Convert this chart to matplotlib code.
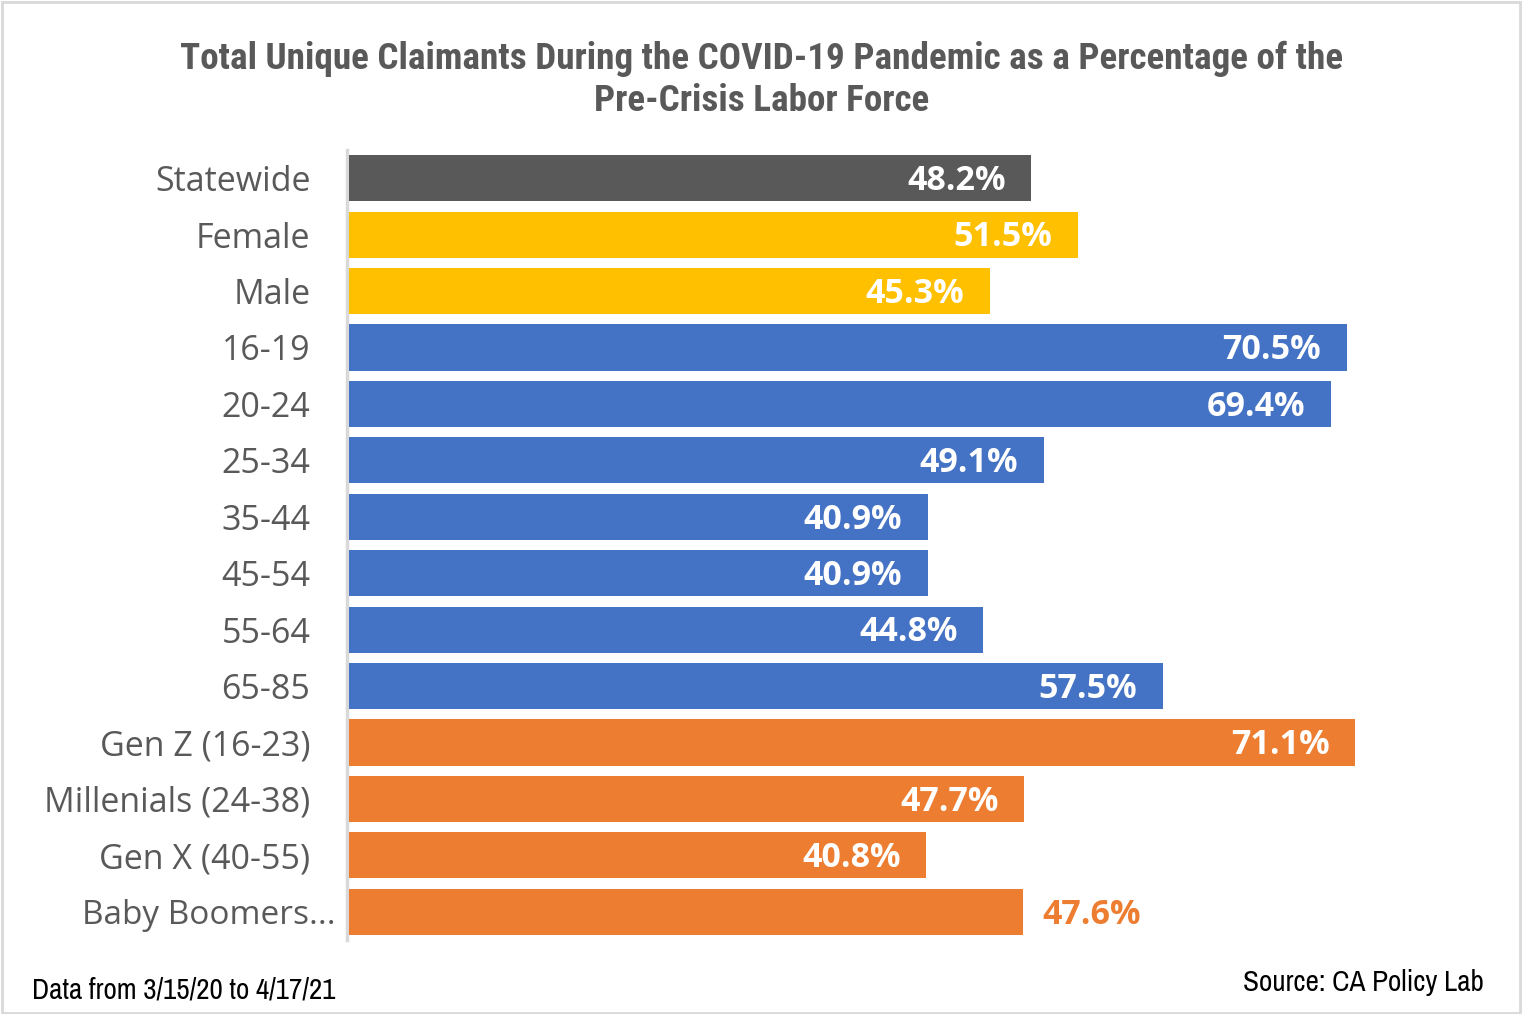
import matplotlib
matplotlib.use("Agg")
import matplotlib.pyplot as plt
from matplotlib.patches import Rectangle

categories = ["Statewide", "Female", "Male", "16-19", "20-24", "25-34", "35-44",
              "45-54", "55-64", "65-85", "Gen Z (16-23)", "Millenials (24-38)",
              "Gen X (40-55)", "Baby Boomers..."]
values = [48.2, 51.5, 45.3, 70.5, 69.4, 49.1, 40.9, 40.9, 44.8, 57.5, 71.1, 47.7, 40.8, 47.6]
groups = ["state", "sex", "sex", "age", "age", "age", "age", "age", "age", "age",
          "gen", "gen", "gen", "gen"]
labels = ["48.2%", "51.5%", "45.3%", "70.5%", "69.4%", "49.1%", "40.9%", "40.9%",
          "44.8%", "57.5%", "71.1%", "47.7%", "40.8%", "47.6%"]

colors = {"state": "#595959", "sex": "#FFC000", "age": "#4472C4", "gen": "#ED7D31"}

narrow = ["Archivo Narrow", "DejaVu Sans"]
title_font = ["Roboto Condensed", "DejaVu Sans"]
body = ["Open Sans", "DejaVu Sans"]

fig = plt.figure(figsize=(15.22, 10.14), dpi=100)
fig.patch.set_facecolor("white")
fig.add_artist(Rectangle((0.001, 0.001), 0.998, 0.997, transform=fig.transFigure,
                         fill=False, edgecolor="#d9d9d9", linewidth=2))

ax = fig.add_axes([346.5/1522, 1-940/1014, 1062/1522, 790/1014])
y = list(range(len(categories)))
bar_colors = [colors[g] for g in groups]
ax.barh(y, values, height=0.82, color=bar_colors, left=0.15, zorder=3)
ax.set_xlim(0, 75)
ax.set_ylim(len(categories)-0.5, -0.5)
ax.set_yticks(y)
tick_texts = categories[:-1] + [""]
ax.set_yticklabels(tick_texts, fontfamily=body, fontsize=24.5, color="#595959")
ax.tick_params(axis="y", length=0, pad=26)
ax.set_xticks([])
for s in ["top", "right", "bottom"]:
    ax.spines[s].set_visible(False)
ax.spines["left"].set_color("#d9d9d9")
ax.spines["left"].set_linewidth(2.5)

# Excel lets the truncated last category label overflow to the right
ax.annotate(categories[-1], (0, y[-1]), xytext=(-8, -2.5), textcoords="offset points",
            ha="right", va="center", fontsize=24, fontfamily=body, color="#595959",
            annotation_clip=False)

for i, (v, lab) in enumerate(zip(values, labels)):
    if i == len(values) - 1:
        ax.annotate(lab, (v, i), xytext=(16, -2), textcoords="offset points",
                    ha="left", va="center", fontsize=24.5, fontweight="bold",
                    fontfamily=body, color=colors["gen"], zorder=4)
    else:
        ax.annotate(lab, (v, i), xytext=(-17, -2), textcoords="offset points",
                    ha="right", va="center", fontsize=24.5, fontweight="bold",
                    fontfamily=body, color="white", zorder=4)

fig.text(762/1522, 1-80/1014,
         "Total Unique Claimants During the COVID-19 Pandemic as a Percentage of the\nPre-Crisis Labor Force",
         ha="center", va="center", fontsize=26.7, fontweight="bold", fontfamily=title_font,
         color="#595959", linespacing=1.2)
fig.text(32/1522, 1-990/1014, "Data from 3/15/20 to 4/17/21", ha="left", va="center",
         fontsize=21, fontfamily=narrow, color="black")
fig.text(1484/1522, 1-983/1014, "Source: CA Policy Lab", ha="right", va="center",
         fontsize=21, fontfamily=narrow, color="black")

fig.savefig("out.png", dpi=100)
